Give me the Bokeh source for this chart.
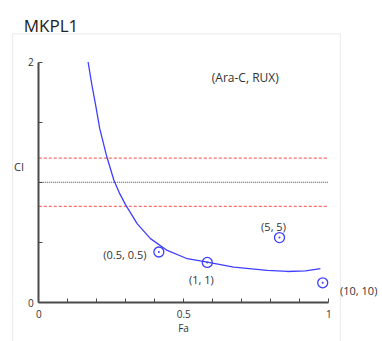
from bokeh.plotting import figure
from bokeh.models import (ColumnDataSource, FixedTicker, Label, LabelSet,
                          BoxAnnotation, LinearAxis, Range1d)
from bokeh.core.properties import value
from bokeh.embed import file_html
from bokeh.resources import INLINE

# ---- data ----
title_text = "MKPL1"
subtitle_text = "(Ara-C, RUX)"
x_label = "Fa"
y_label = "CI"

fa_curve = [0.170, 0.183, 0.196, 0.210, 0.233, 0.259, 0.279, 0.299, 0.339, 0.385,
            0.443, 0.512, 0.581, 0.672, 0.788, 0.857, 0.920, 0.971]
ci_curve = [2.000, 1.810, 1.642, 1.448, 1.225, 1.017, 0.905, 0.814, 0.656, 0.531,
            0.433, 0.364, 0.336, 0.294, 0.267, 0.258, 0.263, 0.281]

combo_labels = ["(0.5, 0.5)", "(1, 1)", "(5, 5)", "(10, 10)"]
fa_points = [0.414, 0.581, 0.830, 0.979]
ci_points = [0.420, 0.333, 0.540, 0.164]

ci_additive = 1.0
ci_upper = 1.2
ci_lower = 0.8

x_ticks = [0, 0.1, 0.2, 0.3, 0.4, 0.5, 0.6, 0.7, 0.8, 0.9, 1.0]
x_tick_labels = {0: "0", 0.5: "0.5", 1: "1"}
y_ticks = [0, 0.5, 1.0, 1.5, 2.0]
y_tick_labels = {0: "0", 2: "2"}

# ---- figure ----
FONT = "Open Sans"
TXT = "#333333"
BLUE = "#3f3fff"
AX = "#4a4a4a"

# frame covers the whole canvas: 290 px per Fa unit, 120.25 px per CI unit
p = figure(width=382, height=341, min_border=0,
           x_range=Range1d(-38.3 / 290, (382 - 38.3) / 290),
           y_range=Range1d((302 - 341) / 120.25, 302 / 120.25),
           x_axis_location=None, y_axis_location=None,
           output_backend="svg", toolbar_location=None, tools="")
p.outline_line_color = None
p.xgrid.visible = False
p.ygrid.visible = False
p.background_fill_color = "white"
p.border_fill_color = "white"

# frame box of the screenshot
p.add_layout(BoxAnnotation(left=-0.0907, right=1.0403, top=2.2345, bottom=-0.40,
                           fill_alpha=0, line_color="#c4c4c4", line_width=1.2))

xaxis = LinearAxis(fixed_location=0, bounds=(x_ticks[0], x_ticks[-1]),
                   ticker=FixedTicker(ticks=x_ticks),
                   major_label_overrides={t: x_tick_labels.get(t, "") for t in x_ticks},
                   major_label_standoff=7)
yaxis = LinearAxis(fixed_location=0, bounds=(y_ticks[0], y_ticks[-1]),
                   ticker=FixedTicker(ticks=y_ticks),
                   major_label_overrides={t: y_tick_labels.get(t, "") for t in y_ticks},
                   major_label_standoff=5)
for ax in (xaxis, yaxis):
    ax.axis_line_color = AX
    ax.axis_line_width = 2
    ax.major_tick_line_color = AX
    ax.major_tick_in = 4
    ax.major_tick_out = 0
    ax.minor_tick_line_color = None
    ax.major_label_text_font = FONT
    ax.major_label_text_font_size = "10px"
    ax.major_label_text_color = TXT
p.add_layout(xaxis, "below")
p.add_layout(yaxis, "left")

# reference lines, spanning the Fa axis
x0, x1 = x_ticks[0], x_ticks[-1]
p.segment(x0=[x0, x0], x1=[x1, x1], y0=[ci_upper, ci_lower], y1=[ci_upper, ci_lower],
          line_color="#ff6b6b", line_dash="3 2", line_width=1.2)
p.segment(x0=[x0], x1=[x1], y0=[ci_additive], y1=[ci_additive],
          line_color="#444444", line_dash="1 1", line_width=1.0)

# curve
p.line(fa_curve, ci_curve, line_color=BLUE, line_width=1.3)

# points
src = ColumnDataSource(dict(x=fa_points, y=ci_points, label=combo_labels,
                            dx=[-34, -6, -6, 36], dy=[-3, -17, 11, -8]))
p.scatter("x", "y", source=src, marker="circle", size=10,
          line_color=BLUE, fill_color=None, line_width=1.3)
p.scatter("x", "y", source=src, marker="circle", size=2,
          line_color=None, fill_color=BLUE)
p.add_layout(LabelSet(x="x", y="y", text="label", source=src, x_offset="dx",
                      y_offset="dy", text_align="center", text_baseline="middle",
                      text_font=value(FONT), text_font_size="11px", text_color=TXT))

# texts
p.add_layout(Label(x=-0.052, y=2.3035, text=title_text, text_font=FONT,
                   text_font_size="17px", text_color="#222222",
                   text_baseline="alphabetic"))
p.add_layout(Label(x=0.712, y=1.868, text=subtitle_text, text_font=FONT,
                   text_font_size="12px", text_color=TXT, text_align="center",
                   text_baseline="middle"))
p.add_layout(Label(x=-0.068, y=1.131, text=y_label, text_font=FONT,
                   text_font_size="11px", text_color=TXT, text_align="center",
                   text_baseline="middle"))
p.add_layout(Label(x=0.499, y=-0.212, text=x_label, text_font=FONT,
                   text_font_size="10px", text_color=TXT, text_align="center",
                   text_baseline="middle"))

open("out.html", "w").write(file_html(p, INLINE))
